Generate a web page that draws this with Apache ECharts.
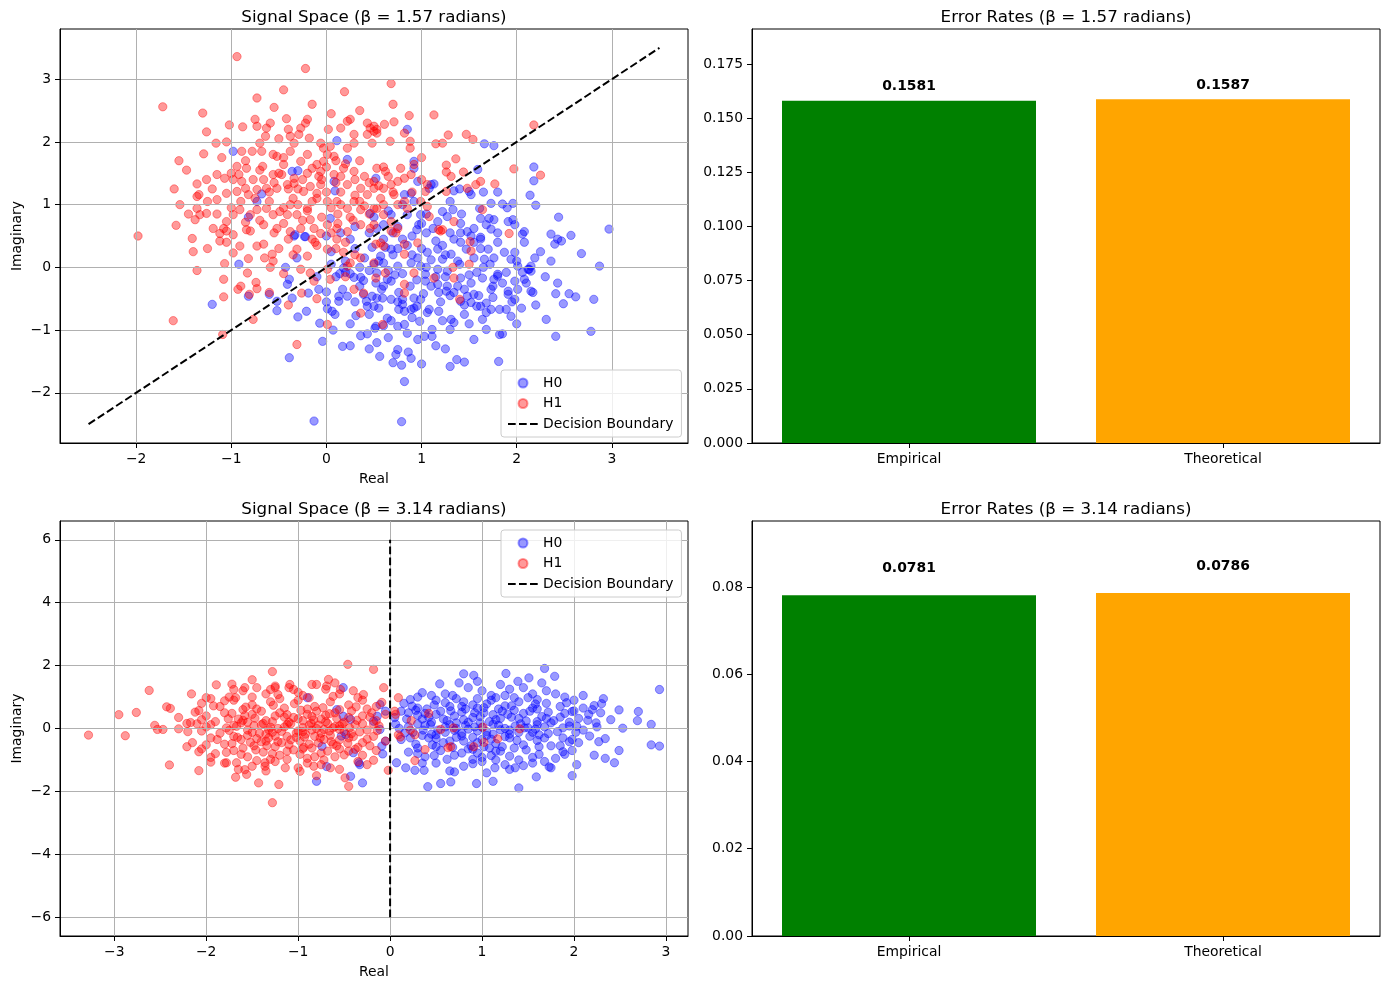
<!DOCTYPE html>
<html>
<head>
<meta charset="utf-8">
<script src="https://cdn.jsdelivr.net/npm/echarts@6/dist/echarts.min.js"></script>
<style>
html,body{margin:0;padding:0;background:#fff;}
#chart{width:1389px;height:989px;}
</style>
</head>
<body>
<div id="chart"></div>
<script>
// ---------- data ----------
const categories = ['Empirical', 'Theoretical'];
const errTop = [0.1581, 0.1587];
const errBot = [0.0781, 0.0786];

const ticksTopX = [-2, -1, 0, 1, 2, 3];
const ticksTopY = [-2, -1, 0, 1, 2, 3];
const ticksBotX = [-3, -2, -1, 0, 1, 2, 3];
const ticksBotY = [-6, -4, -2, 0, 2, 4, 6];
const ticksErrTop = [0, 0.025, 0.05, 0.075, 0.1, 0.125, 0.15, 0.175];
const ticksErrBot = [0, 0.02, 0.04, 0.06, 0.08];

const boundaryTop = [[-2.5, -2.5], [3.5, 3.5]];
const boundaryBot = [[0, -6], [0, 6]];

// beta = 1.57 : H0 samples
const h0Top = [
[-0.13,-2.45],[-1.2,-0.59],[-0.39,-1.44],[0.17,-1.26],[-0.04,-1.18],[0.79,-2.46],[0.82,-1.82],[2.97,0.61],[2.87,0.02],[2.78,-1.02],[2.81,-0.51],[2.41,-1.1],[2.31,-0.83],[2.68,0.22],[2.57,0.51],[2.36,0.53],[1.81,-1.5],[1.3,-1.58],[1.37,-1.47],[1.0,-1.54],[0.7,-1.52],
[2.18,1.6],[2.18,1.38],[2.14,1.15],[2.2,0.99],[2.44,0.8],[1.66,1.97],[1.76,1.94],[1.8,1.2],
[-0.98,1.85],[0.11,2.02],[0.22,1.72],[-0.36,1.53],[-0.3,1.54],[-0.68,1.17],[-0.82,0.8],[-0.73,1.05],[0.52,1.42],[0.09,1.22],[0.08,1.37],[0.46,0.86],[-0.33,0.52],[-0.22,0.49],[0.04,0.78],
[-0.92,0.05],[-0.82,-0.46],[-0.6,-0.43],[-0.52,-0.54],[-0.52,-0.69],[-0.36,-0.49],[-0.3,-0.79],[-0.21,-0.7],[-0.41,-0.27],[-0.39,-0.19],[-0.43,0],[-0.31,0.15],[-0.23,0.49],[-0.34,0.5],[-0.19,-0.41],[-0.08,-0.35],[0,-0.39],[-0.07,-0.89],[0.01,-0.66],[0.06,-0.7],[0.09,-0.75],[0.07,-1.0],[0.36,-1.09],[0.43,-1.06],[0.51,-0.97],[0.53,-1.2],[0.56,-1.42],[0.31,-0.77],[0.5,-0.62],[0.43,-0.62],[0.17,-0.35],[0.13,-0.46],[0.22,-0.46],[0.13,-0.54],[0.14,-0.1],[0.2,-0.08],[0.18,-0.01],[0.25,-0.1],[0.29,-0.16],[0.36,-0.16],[0.39,-0.21],[0.39,-0.43],[0.42,-0.54],[0.53,-0.49],
[0.73,-1.39],[0.75,-1.31],[0.79,-1.56],[0.86,-1.35],[0.89,-1.45],[1.45,-1.51],[0.52,-0.94],[0.6,-0.93],[0.75,-0.94],[0.82,-0.91],[0.96,-1.15],[1.03,-1.1],[1.11,-1.1],[1.11,-0.99],[0.98,-0.86],[1.18,-0.7],[1.3,-0.99],[1.34,-0.88],[1.31,-0.83],[1.5,-0.9],[1.68,-0.99],[1.82,-1.07],[1.85,-1.06],[1.64,-0.83],[1.68,-0.72],[1.73,-0.67],[1.82,-0.67],[1.89,-0.67],[1.94,-0.78],[1.98,-0.51],[1.91,-0.38],[2.01,-0.35],[2.15,-0.38],[2.17,-0.4],[2.41,-0.42],[2.49,-0.58],[2.55,-0.42],[2.62,-0.47],[2.43,-0.25],[2.08,-0.19],[2.1,-0.25],[2.12,-0.03],[2.15,-0.06],[1.98,-0.22],[2.06,-0.08],[1.73,-0.35],[1.8,-0.14],[1.91,-0.43],[1.62,-0.62],[1.68,-0.57],[1.52,-0.56],[1.41,-0.54],[1.55,-0.43],[1.48,-0.46],[1.34,-0.4],[1.26,-0.38],[1.18,-0.4],[1.06,-0.72],[1.08,-0.67],[0.89,-0.67],[0.92,-0.65],[0.8,-0.59],[0.76,-0.67],[0.82,-0.7],[0.64,-0.81],[0.68,-0.51],[0.59,-0.49],[0.48,-0.46],[0.52,-0.25],[0.68,-0.22],[0.76,-0.4],[0.8,-0.51],[0.92,-0.49],[0.99,-0.51],[1.04,-0.22],[1.04,-0.11],[1.17,-0.03],[1.27,-0.06],[1.17,-0.27],[1.27,-0.3],[1.38,-0.3],[1.41,-0.17],[1.52,-0.25],[1.64,-0.17],[1.76,-0.19],[1.8,-0.11],[1.89,-0.08],[2.01,0.02],[2.13,-0.03],[2.15,0.02],[2.19,0.15],[2.36,0.1],[2.43,0.45],[2.4,0.37],[2.47,0.42],[2.08,0.4],[2.06,0.53],[1.98,0.24],[1.87,0.24],[1.94,0.13],[1.76,0.15],[1.66,0.13],[1.7,0.29],[1.62,0.45],[1.55,0.4],[1.47,0.29],[1.41,0.4],[1.31,0.21],[1.22,0.13],[1.17,0.29],[1.06,0.24],[0.96,0.15],[0.99,0.02],[0.89,0.07],[0.75,0.02],[0.6,0.07],[0.57,0.18],[0.68,0.29],[0.5,0.05],[0.53,-0.09],[0.64,-0.19],[1.34,0.45],[1.41,0.55],[1.52,0.5],[1.62,0.48],[1.8,0.55],[1.73,0.61],
[0.85,2.2],[0.92,1.69],[0.92,1.58],[1.59,1.56],[1.5,1.21],[1.4,1.25],[1.34,1.22],[1.52,1.16],[1.1,1.32],[1.13,1.33],[1.08,1.26],[0.89,1.18],[0.82,1.16],[0.92,1.05],[0.96,1.37],[1.73,1.02],[1.85,1.01],[1.96,1.02],[1.71,0.78],[1.62,0.78],[1.61,0.94],[1.22,0.89],[1.33,0.92],[1.27,0.81],[1.17,0.73],[1.41,0.7],[1.48,0.57],[1.55,0.62],[1.68,0.68],[1.76,0.76],[1.91,0.73],[1.96,0.76],[1.98,0.68],[2.08,0.57],[0.85,0.84],[0.99,0.84],[0.97,0.68],[0.68,0.84],[0.6,0.68],[0.53,0.62],
[0.3,0.3],[0.45,0.55],[0.6,0.45],[0.75,0.65],[0.9,0.5],[1.05,0.55],[0.4,0.15],[0.55,0.1],[0.7,0.2],[0.85,0.35],[1.0,0.3],[1.15,0.42],[0.35,-0.3],[0.65,-0.05],[0.8,-0.1],[0.95,-0.2],[1.1,-0.3],[1.25,-0.15],[0.58,-0.35],[0.75,-0.55],[0.45,-0.75],[0.9,-0.8],[1.2,-0.55],[1.4,0.05],[1.55,0.15],[1.25,0.2],[0.25,0.45],[0.2,0.1],[0.1,-0.15],[0.05,0.25],[1.65,0.0],[1.75,-0.3],[1.45,-0.6],[1.6,-0.45],[1.05,0.85],[0.8,1.0],[0.65,0.9],[1.3,0.55],[1.0,0.7],[0.5,0.8],
[0.6,-0.3],[0.72,-0.12],[0.88,-0.3],[1.02,-0.42],[1.15,-0.15],[1.3,-0.45],[1.45,-0.35],[1.58,-0.08],[1.72,0.05],[1.85,-0.25],[0.45,-0.05],[0.35,0.0],[0.62,0.32],[0.8,0.45],[0.95,0.6],[1.1,0.12],[1.22,0.35],[1.38,0.1],[1.5,-0.12],[1.62,0.3],[0.48,0.32],[0.7,0.55],[1.12,0.62],[1.42,0.85],[0.3,-0.55],[0.55,-0.65],[0.68,-0.85],[0.95,-0.62],[1.22,-0.85],[1.45,-0.75],[1.58,-0.62],[1.75,-0.48],[1.95,-0.55],[2.05,-0.65],[0.85,-1.05],[1.15,-1.25],[0.65,-1.12],[0.25,-0.9],[0.0,-0.55],[-0.1,-0.15],[0.05,0.05],[0.3,0.65],[0.15,0.55],[0.0,0.5],[1.8,0.4],[2.0,0.1],[2.25,0.25],[2.3,-0.15],[2.2,-0.6],[2.0,-0.9],[1.55,-1.15],[1.25,-1.3],[0.45,-1.3],[0.25,-1.25],[1.9,0.95],[1.65,1.2],[1.3,1.05],[0.75,0.3],[0.9,0.2],[1.05,0.0]
];

// beta = 1.57 : H1 samples
const h1Top = [
[-0.94,3.36],[-0.22,3.17],[0.19,2.8],[-0.45,2.83],[-0.73,2.7],[-1.72,2.56],[-1.3,2.46],[-1.02,2.27],[-0.88,2.24],[-1.26,2.16],[-0.75,2.36],[-0.73,2.25],[-0.59,2.3],[-0.63,2.22],[-0.64,2.09],[-0.7,1.98],[-0.78,1.85],[-0.89,1.85],[-0.68,1.85],[-0.42,2.37],[-0.4,2.2],[-0.27,2.22],[-0.22,2.3],[-0.2,2.36],[-0.29,2.12],[-0.18,2.06],[-0.34,1.98],[-0.38,2.09],[0.02,2.2],[0.15,2.22],[0.22,2.33],[0.25,2.36],[0.29,2.12],[0.43,2.3],[0.5,2.25],[0.53,2.2],[0.43,2.12],[0.48,1.98],[0.29,1.98],[0.22,1.9],[-0.06,1.98],[-0.03,1.9],[0.04,1.93],[0.01,1.8],[0.08,1.77],[-0.03,1.69],[-0.56,1.8],[-0.52,1.77],[-0.67,1.61],[-0.84,1.58],[-0.94,1.61],[-0.92,1.48],[-0.45,1.64],[-0.38,1.85],[-0.27,1.69],[-0.15,1.58],[-0.1,1.64],[-0.06,1.53],[-1.15,1.48],[-1.07,1.42],[-0.98,1.4],[-0.89,1.37],[-0.77,1.4],[-0.66,1.4],[-0.56,1.48],[-0.47,1.48],[-0.34,1.42],[-1.36,1.33],[-1.26,1.4],[-1.36,1.13],[-1.34,1.16],[-1.15,1.08],[-1.05,1.18],[-0.94,1.21],[-0.85,1.26],[-0.82,1.16],[-0.73,1.24],[-0.63,1.26],[-0.52,1.26],[-0.41,1.32],[-0.34,1.34],[-0.24,1.21],[-0.17,1.29],[-0.06,1.32],[-0.1,1.18],[0.01,1.05],[0.08,1.48],[0.18,1.58],[0.29,1.53],[0.22,1.32],[0.36,1.26],[0.43,1.16],[0.5,1.26],[-1.36,0.94],[-1.38,0.76],[-1.33,0.84],[-1.26,0.86],[-1.19,0.62],[-1.08,0.62],[-1.05,0.73],[-0.98,0.84],[-0.91,0.92],[-0.8,0.84],[-0.73,0.92],[-0.63,0.94],[-0.56,0.84],[-0.49,0.89],[-0.41,0.84],[-0.38,1.0],[-0.31,0.84],[-0.2,0.94],[-0.17,0.76],[-1.12,0.54],[-0.98,0.52],[-0.84,0.6],[-0.66,0.68],[-0.52,0.62],[-0.38,0.57],[-0.27,0.62],[-0.13,0.62],[-0.06,0.54],[0.01,0.68],[0.11,0.62],[0.22,0.57],[0.36,0.68],[0.46,0.62],[0.11,1.05],[0.22,0.94],[0.29,1.05],[0.36,0.92],[0.5,0.94],
[-1.41,0.46],[-1.4,0.25],[-1.36,-0.05],[-1.07,0.06],[-1.08,-0.19],[-1.08,-0.47],[-0.93,-0.35],[-0.9,-0.3],[-0.81,-0.43],[-0.77,-0.83],[-0.83,-0.09],[-0.74,-0.24],[-0.73,-0.34],[-0.82,0.14],[-0.59,0],[-0.56,0.1],[-0.57,0.21],[-1.12,0.42],[-1.05,0.4],[-0.91,0.34],[-0.98,0.23],[-0.73,0.34],[-0.66,0.37],[-1.05,0.58],[-0.8,0.58],[-0.31,0.29],[-0.2,0.18],[-0.12,0.4],[0.01,0.29],[0.11,0.45],[0.18,0.24],[-0.27,-0.03],[-0.17,-0.09],[-0.26,-0.41],[-0.13,-0.22],[0.01,-0.03],[0.04,-0.19],[0.29,-0.35],[0.36,-0.73],[0.39,-0.41],[0.22,0.02],[0.25,0.07],[0.36,0.15],[0.5,0.07],[0.52,-0.17],[0.01,-0.91],[-0.31,-1.23],[-1.09,-1.07],[-1.61,-0.85],[-1.98,0.5],
[-1.16,1.98],[-1.29,1.81],[-1.47,1.55],[-1.54,1.0],[-1.58,0.67],
[1.92,0.54],[1.51,0.41],[1.52,0.26],[1.2,0.58],[0.82,0.37],[0.82,0.21],[0.96,0.39],[0.82,-0.27],[0.82,-0.41],[0.92,-0.09],[1.13,-0.17],[1.33,0],[1.34,-0.17],[1.5,0.05],[1.4,-0.51],[0.59,-0.91],[0.62,-0.09],[0.6,0.34],[0.57,0.39],[0.52,0.37],[0.73,0.55],[0.68,0.58],
[0.68,2.93],[1.13,2.43],[0.87,2.42],[0.71,2.32],[0.61,2.28],[0.46,2.22],[0.5,2.17],[0.53,2.14],[0.67,2.01],[0.88,2.01],[0.88,1.9],[0.82,2.14],[1.28,2.11],[1.22,1.98],[1.15,1.97],[1.47,2.12],[1.54,2.04],[1.36,1.73],[1.26,1.63],[1.26,1.52],[1.31,1.45],[1.44,1.52],[1.48,1.26],[1.57,1.32],[1.62,1.37],[1.77,1.33],[1.97,1.57],[2.18,2.27],[2.25,1.47],[1.26,1.21],[1.06,1.32],[1.04,1.21],[0.99,1.05],[1.06,0.97],[1.08,0.81],[1.18,0.6],[1.22,0.6],[1.64,0.92],[1.34,0.73],[0.92,1.64],[0.89,1.48],[0.78,1.58],[0.82,1.42],[0.75,1.37],[0.68,1.32],[0.62,1.53],[0.53,1.58],[0.5,1.37],[0.6,1.26],[0.71,1.16],[0.82,1.05],[0.85,0.94],[0.57,1.1],[0.53,0.94],[0.6,0.84],[0.68,0.73],[0.75,0.62],[0.5,0.68],
[-0.1,1.1],[0.05,0.95],[0.15,1.2],[-0.2,0.9],[-0.35,1.1],[0.25,0.8],[0.35,1.05],[-0.05,0.8],[0.1,1.35],[-0.25,1.4],[0.4,1.45],[0.6,1.0],[0.45,0.85],[-0.45,0.7],[-0.6,1.05],[-0.15,0.45],[0.05,0.55],[0.2,0.4],[-0.4,0.45],[0.3,0.2],[0.12,0.7],[-0.3,1.25],[0.0,1.6],[0.2,1.65],[-0.5,1.5],[0.55,1.3],[0.7,1.2],[0.15,1.0],[-0.08,1.45],[0.3,1.4],
[-0.3,1.0],[-0.15,1.05],[0.0,1.2],[0.12,0.85],[0.28,0.75],[-0.45,0.95],[-0.6,1.2],[-0.75,1.1],[-0.9,1.05],[-1.0,0.95],[-0.55,0.55],[-0.7,0.75],[-0.85,0.72],[-0.25,0.75],[0.4,0.98],[0.45,1.35],[0.3,1.15],[0.15,1.45],[-0.05,1.4],[-0.2,1.5],[-0.4,1.25],[-0.55,1.35],[-0.7,1.55],[-0.85,1.7],[-1.0,1.5],[-1.2,1.25],[-1.15,0.85],[-1.25,1.05],[-0.45,1.75],[-0.2,1.8],[0.1,1.7],[0.35,1.7],[0.6,1.6],[0.65,1.45],[0.75,1.0],[0.9,1.2],[1.0,1.4],[-0.1,0.35],[0.1,0.3],[-0.35,0.2],[-0.5,0.3],[-0.65,0.15],[-0.45,-0.1],[-0.6,-0.4],[-0.4,-0.6],[-0.1,-0.5],[0.2,-0.15],[-1.25,0.3],[-1.45,0.85],[-1.6,1.25],[-1.55,1.7],[-1.1,1.75],[-1.05,2.0],[-0.5,2.05],[0.05,2.45],[0.35,2.5],[0.7,2.6],[-0.15,2.6],[-0.55,2.55],[1.0,1.75]
];

// beta = 3.14 : H0 samples
const h0Bot = [
[2.93,1.24],[2.93,-0.56],[2.84,-0.52],[2.84,0.13],[2.7,0.54],[2.69,0.25],[2.49,0.59],[2.53,0.01],[2.4,0.28],[2.49,-0.7],[2.44,-1.09],[2.34,-0.95],[2.22,-0.85],[2.34,-0.32],[2.27,-0.42],[2.17,-0.24],[2.32,0.95],[2.3,0.79],[2.22,0.73],[2.29,0.5],[2.24,0.18],[2.16,0.45],[1.98,-1.5],[2.03,-1.15],[1.98,-0.7],[1.88,-0.74],[1.98,-0.35],[2.03,0.07],[1.98,0.54],[1.68,1.91],[1.79,1.66],[1.51,1.61],[1.26,1.75],[1.39,1.5],[1.4,-1.89],[1.59,-1.54],[1.12,-1.68],[0.94,-1.75],[0.66,-1.7],[0.55,-1.75],[0.41,-1.85],[0.8,1.74],[0.91,1.69],[0.54,1.42],[0.35,1.14],[0.24,0.71],[0.27,-1.33],[0.37,-1.33],[0.17,-1.25],[0.07,-1.09],[0.7,-1.38],[1.05,-1.41],[1.14,-1.25],[1.36,-1.25],[1.73,-1.22],
[-0.8,-1.68],[-0.3,-1.73],[-0.51,1.3],[-0.9,0.98],[-0.43,-1.52],[-0.69,-1.21],[-0.74,-0.57],[-0.08,-0.81],
[-0.18,0.23],[-0.11,0.76],[-0.05,0.55],[-0.11,-0.03],[-0.09,-0.56],[-0.05,-0.4],[-0.14,0.39],[-0.4,-0.77],[-0.34,-1.09],[-0.33,-1.15],[-0.51,0.39],[-0.58,0.6],[-0.43,0.29],[-0.53,-0.24],[-0.48,-0.19],
[0.6,1.1],[0.85,1.3],[1.1,1.05],[1.3,1.25],[1.55,1.1],[0.75,1.45],[1.0,1.2],[1.2,1.4],[1.45,1.3],[1.7,1.2],[0.45,1.05],[1.9,1.0],[0.95,1.5],[1.65,1.45],
[0.15,0.8],[0.3,0.65],[0.5,0.9],[0.65,0.7],[0.8,0.85],[0.95,0.65],[1.1,0.9],[1.25,0.72],[1.4,0.85],[1.55,0.65],[1.7,0.8],[1.85,0.7],[2.0,0.9],[0.4,0.62],[0.72,0.95],[1.05,0.78],[1.35,0.98],[1.6,0.92],[2.1,0.65],[0.9,0.75],[1.18,0.62],
[0.05,0.35],[0.2,0.5],[0.35,0.3],[0.5,0.45],[0.62,0.25],[0.78,0.52],[0.9,0.35],[1.02,0.5],[1.15,0.28],[1.28,0.45],[1.4,0.32],[1.52,0.55],[1.65,0.38],[1.78,0.25],[1.9,0.48],[2.05,0.32],[0.28,0.58],[0.7,0.4],[1.08,0.22],[1.35,0.58],[1.6,0.22],[1.95,0.2],[0.45,0.2],[0.85,0.2],[1.22,0.55],[0.55,0.55],
[0.1,0.0],[0.25,-0.12],[0.38,0.1],[0.52,-0.05],[0.65,0.12],[0.78,-0.15],[0.92,0.05],[1.05,-0.1],[1.18,0.1],[1.3,-0.05],[1.42,0.15],[1.55,-0.12],[1.68,0.05],[1.82,-0.1],[1.95,0.08],[2.1,-0.05],[0.45,-0.18],[0.72,0.0],[0.98,0.18],[1.25,0.0],[1.5,0.02],[1.75,0.18],[0.85,-0.02],[1.12,-0.18],[0.3,0.15],[1.62,-0.2],
[0.12,-0.35],[0.28,-0.5],[0.42,-0.3],[0.58,-0.45],[0.72,-0.28],[0.88,-0.55],[1.0,-0.35],[1.15,-0.48],[1.3,-0.3],[1.45,-0.52],[1.6,-0.38],[1.75,-0.55],[1.88,-0.3],[2.05,-0.45],[0.5,-0.58],[0.8,-0.4],[1.22,-0.58],[1.52,-0.25],[0.35,-0.22],[1.05,-0.22],[0.95,-0.45],
[0.2,-0.75],[0.38,-0.9],[0.55,-0.7],[0.7,-0.85],[0.85,-0.65],[1.0,-0.92],[1.15,-0.72],[1.3,-0.88],[1.48,-0.68],[1.62,-0.82],[1.8,-0.95],[0.62,-0.98],[1.08,-0.62],[1.4,-1.0],[0.95,-0.78],
[0.5,-1.1],[0.8,-1.2],[1.0,-1.05],[1.25,-1.15],[1.55,-1.1],[0.65,-1.35],[1.3,-1.3],[1.75,-1.25],
[0.22,0.92],[0.48,0.75],[0.78,0.7],[1.02,0.66],[1.32,0.72],[1.58,0.78],[1.92,0.82],[2.2,0.6],[0.6,0.82],[1.15,0.98],
[0.12,0.55],[0.38,0.48],[0.66,0.56],[0.92,0.5],[1.12,0.44],[1.45,0.48],[1.72,0.52],[2.0,0.56],[0.82,0.62],[1.6,0.62],
[0.18,0.3],[0.42,0.36],[0.58,0.3],[0.8,0.28],[0.98,0.38],[1.2,0.32],[1.48,0.24],[1.7,0.32],[1.85,0.36],[2.15,0.26],[0.3,0.42],[1.32,0.36],
[0.06,0.14],[0.2,0.06],[0.44,0.12],[0.6,0.05],[0.82,0.1],[1.0,0.04],[1.12,0.14],[1.36,0.08],[1.6,0.12],[1.88,0.02],[2.25,0.05],[0.72,0.18],[1.46,0.02],
[0.16,-0.14],[0.36,-0.05],[0.6,-0.12],[0.7,-0.06],[0.95,-0.08],[1.2,-0.04],[1.4,-0.12],[1.58,-0.02],[1.72,-0.16],[2.02,-0.12],[0.5,-0.2],[1.3,-0.18],
[0.22,-0.3],[0.5,-0.32],[0.65,-0.4],[0.9,-0.28],[1.1,-0.34],[1.38,-0.38],[1.68,-0.3],[1.95,-0.42],[0.78,-0.24],[1.25,-0.26],
[0.3,-0.62],[0.46,-0.52],[0.68,-0.6],[1.02,-0.58],[1.35,-0.62],[1.62,-0.58],[1.85,-0.55],[0.9,-0.66],[1.2,-0.72],
[0.3,-0.8],[0.48,-0.86],[0.78,-0.78],[1.1,-0.86],[1.55,-0.92],[1.9,-0.82],[0.9,-0.98],
[0.3,1.0],[0.68,1.05],[0.95,0.95],[1.25,1.05],[1.5,0.98],[1.8,1.1],[2.1,1.05],
[0.35,-1.1],[0.9,-1.12],[1.15,-1.0],[1.45,-1.18],[1.68,-1.05]
];

// beta = 3.14 : H1 samples
const h1Bot = [
[-3.28,-0.21],[-2.95,0.44],[-2.88,-0.23],[-2.76,0.51],[-2.62,1.21],[-2.43,0.69],[-2.39,0.64],[-2.56,0.1],[-2.53,-0.03],[-2.47,-0.03],[-2.3,-0.01],[-2.4,-1.16],[-2.21,0.16],[-2.17,0.19],[-2.16,1.1],[-2.08,0.57],[-2.0,0.98],[-1.89,1.39],[-2.08,-1.34],[-2.21,-0.58],[-2.08,-0.74],[-1.95,-1.07],[-1.68,-1.55],[-1.56,-1.46],[-1.43,-1.73],[-1.28,-2.36],[-1.21,-1.78],[-1.28,1.81],[-1.5,1.55],[-1.72,1.41],[-0.46,2.04],[-0.18,1.88],[-0.07,1.3],[-0.29,1.08],[-0.45,-1.84],[-0.18,-1.01],[-0.02,-1.33],[-0.8,-1.5],
[0.09,0.98],[0.27,-1.02],[0.42,0.48],[0.55,-0.03],[0.69,0.02],[1.01,0.04],[1.41,-0.01],[1.17,-0.33],[1.02,-0.44],[0.91,-0.58],[0.63,-0.61],[0.66,-0.58],[0.38,-0.67],[0.23,0.25],[0.22,-0.05],[0.27,-0.2],[0.11,-0.27],[0.06,0.45],[0.05,0.55],[0.09,-0.2],
[-1.58,1.3],[-1.7,1.24],[-1.68,0.98],[-1.09,1.4],[-1.05,1.24],[-0.8,1.4],[-0.67,1.56],[-0.69,1.35],[-0.54,1.24],[-1.3,1.24],[-1.25,1.3],[-1.58,-1.31],[-1.14,-1.25],[-0.98,-1.36],[-0.83,-1.2],[-0.65,-1.25],[-0.49,-1.57],[-1.36,-1.2],[-1.36,-1.09],[-1.78,-1.09],[-1.67,-1.09],
[-1.6,1.2],[-1.35,1.1],[-1.1,1.3],[-0.95,1.05],[-0.7,1.25],[-0.55,1.1],[-1.25,1.35],[-0.85,1.4],[-1.75,1.0],[-0.4,1.2],[-0.6,1.45],[-1.45,1.3],
[-2.05,0.8],[-1.85,0.7],[-1.7,0.9],[-1.5,0.75],[-1.3,0.85],[-1.15,0.65],[-1.0,0.9],[-0.82,0.7],[-0.65,0.85],[-0.45,0.75],[-0.3,0.9],[-0.15,0.7],[-1.6,0.6],[-1.2,0.95],[-0.9,0.62],[-0.55,0.6],[-1.95,0.95],[-0.25,0.62],
[-2.3,0.35],[-2.0,0.4],[-1.8,0.5],[-1.65,0.3],[-1.5,0.45],[-1.35,0.25],[-1.2,0.5],[-1.05,0.35],[-0.9,0.45],[-0.75,0.3],[-0.6,0.5],[-0.45,0.35],[-0.3,0.4],[-0.15,0.25],[-1.4,0.55],[-1.1,0.2],[-0.8,0.55],[-0.5,0.2],[-1.9,0.22],[-0.05,0.45],[-1.25,0.4],[-0.95,0.25],[-0.7,0.42],[-1.55,0.2],
[-2.2,-0.1],[-2.0,0.05],[-1.85,-0.15],[-1.7,0.1],[-1.55,-0.05],[-1.4,0.12],[-1.28,-0.12],[-1.15,0.05],[-1.0,-0.08],[-0.88,0.1],[-0.75,-0.15],[-0.62,0.02],[-0.5,-0.1],[-0.38,0.12],[-0.25,-0.05],[-0.12,0.08],[-1.62,0.18],[-1.35,-0.18],[-1.08,0.15],[-0.92,-0.18],[-0.68,0.16],[-0.42,-0.16],[-1.78,0.02],[-1.22,0.0],[-0.8,0.0],[-0.55,0.08],[-2.1,0.15],[-0.3,0.15],
[-2.15,-0.45],[-1.95,-0.3],[-1.8,-0.5],[-1.62,-0.35],[-1.48,-0.55],[-1.32,-0.3],[-1.18,-0.45],[-1.02,-0.28],[-0.88,-0.5],[-0.72,-0.35],[-0.58,-0.55],[-0.45,-0.3],[-0.3,-0.45],[-0.18,-0.25],[-1.55,-0.22],[-1.25,-0.58],[-0.98,-0.4],[-0.65,-0.22],[-0.35,-0.6],[-1.7,-0.25],[-1.4,-0.42],[-0.82,-0.25],[-0.05,-0.4],[-1.12,-0.25],
[-1.9,-0.8],[-1.7,-0.7],[-1.55,-0.9],[-1.38,-0.75],[-1.2,-0.85],[-1.05,-0.68],[-0.9,-0.95],[-0.75,-0.78],[-0.6,-0.9],[-0.45,-0.72],[-0.3,-0.85],[-0.15,-0.7],[-1.3,-0.98],[-0.95,-0.65],[-0.55,-0.65],[-2.05,-0.65],[-1.6,-0.62],
[-1.8,-1.1],[-1.5,-1.2],[-1.25,-1.05],[-1.0,-1.25],[-0.75,-1.15],[-0.55,-1.3],[-0.35,-1.05],[-1.35,-1.35],[-0.9,-1.1],[-1.65,-1.3],
[-1.92,0.72],[-1.57,0.68],[-1.27,0.74],[-1.04,0.79],[-0.73,0.66],[-0.37,0.69],[-0.09,0.83],
[-2.12,0.52],[-1.72,0.48],[-1.45,0.62],[-1.12,0.44],[-0.97,0.58],[-0.66,0.47],[-0.42,0.56],[-0.2,0.5],[-1.58,0.41],[-0.85,0.38],
[-2.05,0.28],[-1.76,0.31],[-1.47,0.33],[-1.28,0.22],[-1.0,0.31],[-0.83,0.27],[-0.58,0.32],[-0.36,0.26],[-0.22,0.36],[-1.15,0.36],[-0.7,0.22],[-1.6,0.26],
[-1.95,0.12],[-1.67,0.07],[-1.48,0.09],[-1.3,0.04],[-1.12,0.12],[-0.95,0.03],[-0.78,0.11],[-0.6,0.06],[-0.44,0.02],[-0.18,0.14],[-1.38,0.16],[-0.86,0.17],[-0.52,0.15],
[-2.05,-0.08],[-1.75,-0.06],[-1.5,-0.12],[-1.32,-0.04],[-1.18,-0.09],[-1.02,-0.14],[-0.85,-0.05],[-0.66,-0.08],[-0.55,-0.03],[-0.33,-0.11],[-0.14,-0.07],[-1.42,-0.15],[-0.95,-0.1],[-0.72,-0.03],
[-1.88,-0.35],[-1.66,-0.28],[-1.45,-0.32],[-1.25,-0.24],[-1.08,-0.36],[-0.93,-0.27],[-0.76,-0.3],[-0.55,-0.36],[-0.4,-0.26],[-0.25,-0.34],[-1.35,-0.4],[-0.64,-0.42],
[-2.0,-0.52],[-1.72,-0.48],[-1.52,-0.44],[-1.34,-0.55],[-1.1,-0.52],[-0.94,-0.6],[-0.78,-0.46],[-0.62,-0.5],[-0.46,-0.47],[-0.22,-0.55],[-1.22,-0.42],[-0.85,-0.62],
[-1.78,-0.76],[-1.46,-0.68],[-1.28,-0.8],[-1.12,-0.72],[-0.98,-0.82],[-0.68,-0.72],[-0.5,-0.84],[-0.38,-0.66],[-0.82,-0.9],[-1.62,-0.82],
[-1.5,1.0],[-1.22,1.08],[-0.88,0.98],[-0.62,1.02],[-0.35,0.98],[-1.8,0.88],[-1.0,1.15],
[-1.45,-1.02],[-1.12,-0.98],[-0.72,-1.0],[-0.25,-1.15],[-1.95,-0.92]
];

// ---------- chart ----------
const FONT = 'DejaVu Sans';
const FS = 13.9;
const BLUE = 'rgba(0,0,255,0.5)';
const RED = 'rgba(255,0,0,0.5)';
const GRIDC = '#b0b0b0';
const DASH = [7.7, 3.3];
const minusFmt = v => (v < 0 ? '\u2212' + Math.abs(v) : String(v));

function valueAxis(idx, min, max, ticks, fmt, name, isX, showGrid) {
  const ax = {
    type: 'value', gridIndex: idx, min: min, max: max, z: 3,
    axisLine: {show: true, onZero: false, lineStyle: {color: '#000', width: 1}},
    axisTick: {show: true, length: 5, lineStyle: {color: '#000', width: 1}, customValues: ticks},
    axisLabel: {show: true, margin: 9, color: '#000', fontSize: FS, fontFamily: FONT, formatter: fmt, customValues: ticks},
    splitLine: {show: showGrid, lineStyle: {color: GRIDC, width: 1}},
  };
  if (name) {
    ax.name = name; ax.nameLocation = 'middle';
    ax.nameGap = isX ? 29 : 36;
    ax.nameTextStyle = {color: '#000', fontSize: FS, fontFamily: FONT};
  }
  return ax;
}

function catAxis(idx) {
  return {
    type: 'category', gridIndex: idx, data: categories, boundaryGap: true,
    axisLine: {show: true, lineStyle: {color: '#000', width: 1}},
    axisTick: {show: true, alignWithLabel: true, length: 5, lineStyle: {color: '#000'}},
    axisLabel: {color: '#000', fontSize: FS, fontFamily: FONT, margin: 9, interval: 0},
    splitLine: {show: false}
  };
}

function scatterSeries(name, data, xi, color) {
  return {
    type: 'scatter', name: name, xAxisIndex: xi, yAxisIndex: xi, data: data,
    symbol: 'circle', symbolSize: 8.3, z: 2,
    itemStyle: {color: color, borderColor: color, borderWidth: 1}, emphasis: {disabled: true}
  };
}

function lineSeries(data, xi) {
  return {
    type: 'line', name: 'Decision Boundary', xAxisIndex: xi, yAxisIndex: xi, data: data,
    symbol: 'none', z: 4, lineStyle: {color: '#000', width: 2, type: DASH},
    itemStyle: {color: '#000'}
  };
}

function barSeries(values, xi, dist) {
  return {
    type: 'bar', xAxisIndex: xi, yAxisIndex: xi, barWidth: 254,
    data: values.map((v, i) => ({value: v, itemStyle: {color: ['#008000', '#FFA500'][i]}})),
    label: {show: true, position: 'top', distance: dist, color: '#000', fontWeight: 'bold',
            fontSize: FS, fontFamily: FONT, formatter: p => p.value.toFixed(4)}
  };
}

function legendAt(left, top) {
  return {
    show: true, orient: 'vertical', left: left, top: top, z: 6,
    data: [
      {name: 'H0', icon: 'circle'},
      {name: 'H1', icon: 'circle'},
      {name: 'Decision Boundary',
       itemStyle: {opacity: 0, borderWidth: 0},
       lineStyle: {color: '#000', width: 2, type: DASH, opacity: 1}}
    ],
    selectedMode: false,
    itemWidth: 30, itemHeight: 9, itemGap: 6.5,
    padding: [6, 8, 6, 6],
    backgroundColor: 'rgba(255,255,255,0.8)', borderColor: '#cccccc', borderWidth: 1, borderRadius: 3,
    textStyle: {color: '#000', fontSize: FS, fontFamily: FONT}
  };
}

function titleText(x, y, text) {
  return {
    type: 'text', x: x, y: y, z: 10,
    style: {text: text, fill: '#000', font: '16.7px "DejaVu Sans"', fontSize: 16.7, fontFamily: FONT,
            textAlign: 'center', textVerticalAlign: 'middle', align: 'center', verticalAlign: 'middle'}
  };
}

const chart = echarts.init(document.getElementById('chart'), null, {renderer: 'canvas'});
const gridBase = {show: true, borderColor: '#000', borderWidth: 1, backgroundColor: 'rgba(0,0,0,0)', containLabel: false};

chart.setOption({
  animation: false,
  backgroundColor: '#fff',
  textStyle: {fontFamily: FONT},
  grid: [
    Object.assign({left: 60, top: 29, width: 628, height: 414}, gridBase),
    Object.assign({left: 752, top: 29, width: 628, height: 414}, gridBase),
    Object.assign({left: 60, top: 521, width: 628, height: 415}, gridBase),
    Object.assign({left: 752, top: 521, width: 628, height: 415}, gridBase)
  ],
  xAxis: [
    valueAxis(0, -2.8, 3.8, ticksTopX, minusFmt, 'Real', true, true),
    catAxis(1),
    valueAxis(2, -3.59, 3.24, ticksBotX, minusFmt, 'Real', true, true),
    catAxis(3)
  ],
  yAxis: [
    valueAxis(0, -2.8, 3.8, ticksTopY, minusFmt, 'Imaginary', false, true),
    valueAxis(1, 0, 0.1912, ticksErrTop, v => v.toFixed(3), null, false, false),
    valueAxis(2, -6.6, 6.6, ticksBotY, minusFmt, 'Imaginary', false, true),
    valueAxis(3, 0, 0.0951, ticksErrBot, v => v.toFixed(2), null, false, false)
  ],
  legend: [legendAt(501, 370), legendAt(501, 530)],
  series: [
    scatterSeries('H0', h0Top, 0, BLUE),
    scatterSeries('H1', h1Top, 0, RED),
    lineSeries(boundaryTop, 0),
    barSeries(errTop, 1, 7),
    scatterSeries('H0', h0Bot, 2, BLUE),
    scatterSeries('H1', h1Bot, 2, RED),
    lineSeries(boundaryBot, 2),
    barSeries(errBot, 3, 20)
  ],
  graphic: [
    titleText(374, 17.5, 'Signal Space (\u03b2 = 1.57 radians)'),
    titleText(1066, 17.5, 'Error Rates (\u03b2 = 1.57 radians)'),
    titleText(374, 509.5, 'Signal Space (\u03b2 = 3.14 radians)'),
    titleText(1066, 509.5, 'Error Rates (\u03b2 = 3.14 radians)')
  ]
});
</script>
</body>
</html>
